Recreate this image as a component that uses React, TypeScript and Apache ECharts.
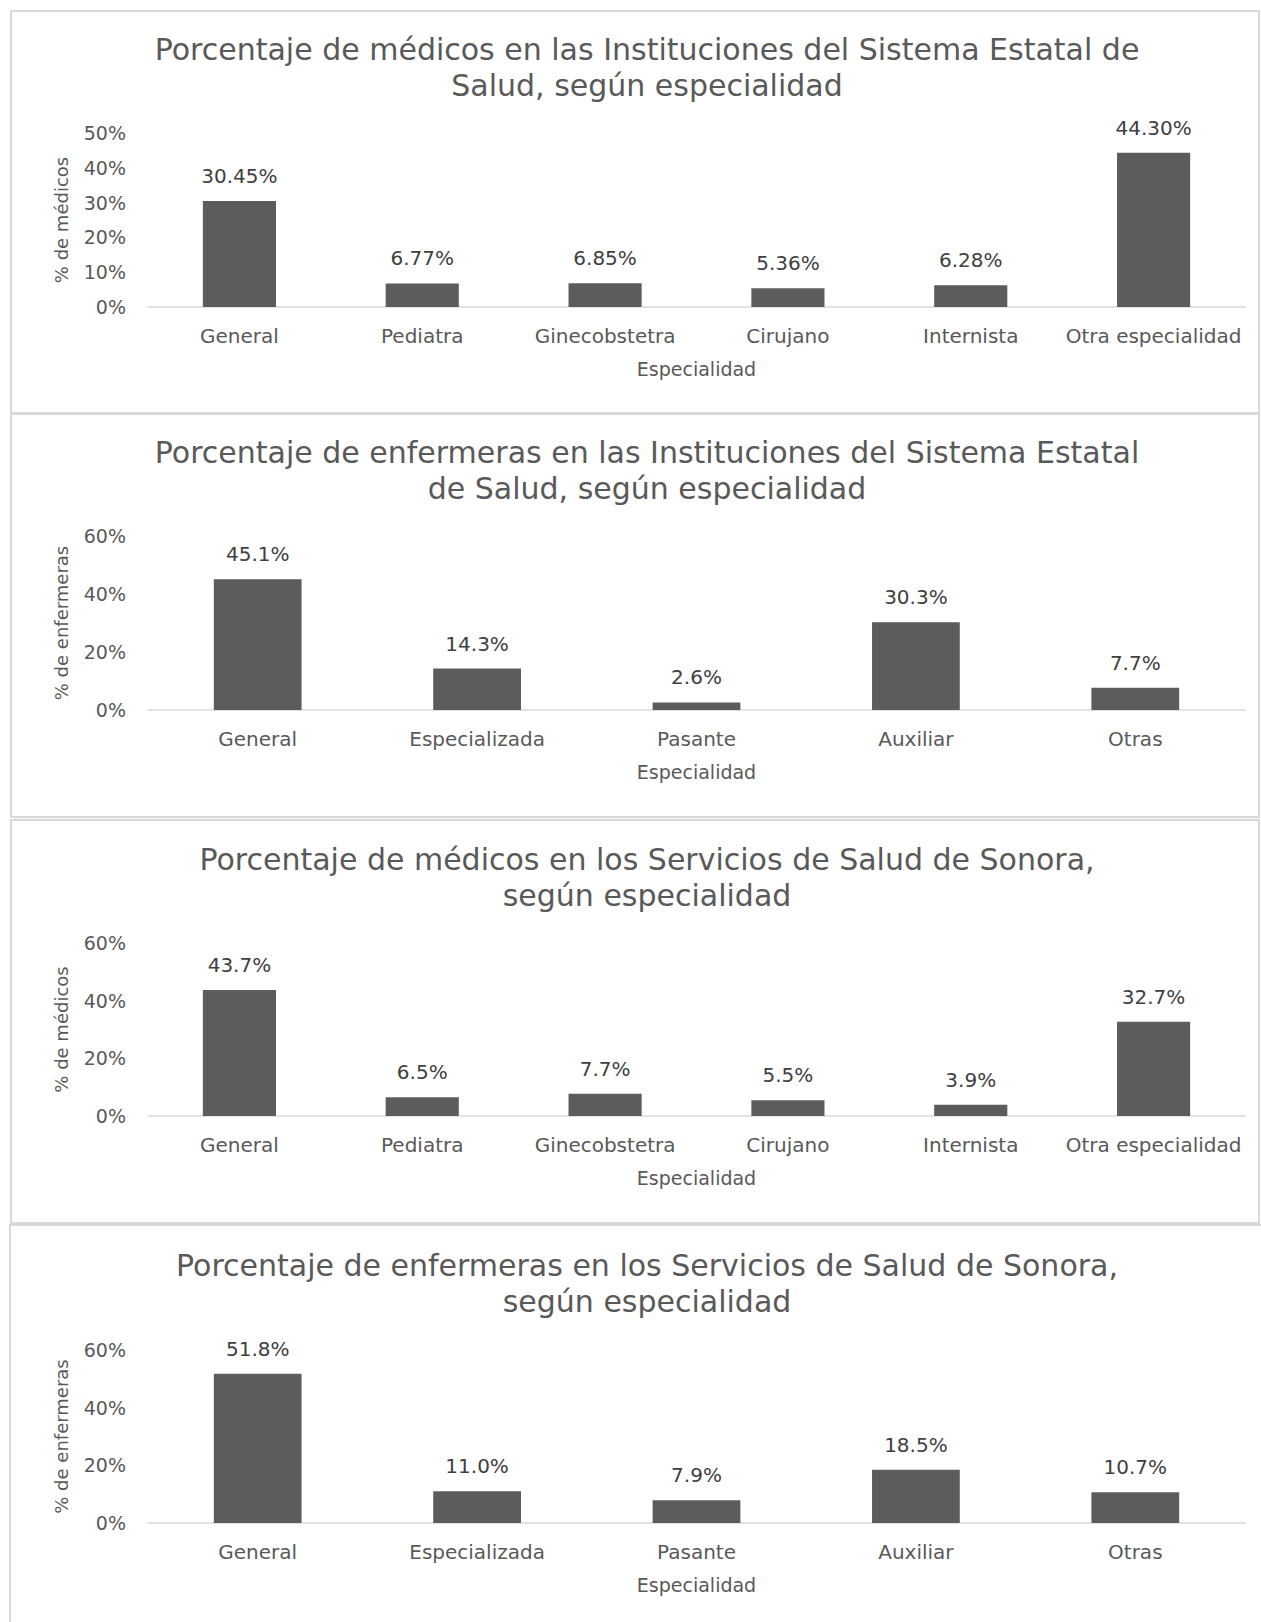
import React, { useEffect, useRef } from "react";
import * as echarts from "echarts";

const catsMed = ["General", "Pediatra", "Ginecobstetra", "Cirujano", "Internista", "Otra especialidad"];
const catsEnf = ["General", "Especializada", "Pasante", "Auxiliar", "Otras"];

const medSistema = [30.45, 6.77, 6.85, 5.36, 6.28, 44.3];
const enfSistema = [45.1, 14.3, 2.6, 30.3, 7.7];
const medSonora = [43.7, 6.5, 7.7, 5.5, 3.9, 32.7];
const enfSonora = [51.8, 11.0, 7.9, 18.5, 10.7];

const titles = [
  "Porcentaje de médicos en las Instituciones del Sistema Estatal de\nSalud, según especialidad",
  "Porcentaje de enfermeras en las Instituciones del Sistema Estatal\nde Salud, según especialidad",
  "Porcentaje de médicos en los Servicios de Salud de Sonora,\nsegún especialidad",
  "Porcentaje de enfermeras en los Servicios de Salud de Sonora,\nsegún especialidad",
];
const yNames = ["% de médicos", "% de enfermeras", "% de médicos", "% de enfermeras"];
const xName = "Especialidad";
const yMax = [50, 60, 60, 60];
const yInterval = [10, 20, 20, 20];
const decimals = [2, 1, 1, 1];

const panels = [
  { cats: catsMed, data: medSistema },
  { cats: catsEnf, data: enfSistema },
  { cats: catsMed, data: medSonora },
  { cats: catsEnf, data: enfSonora },
];

// layout
const gridTops = [133, 536, 943, 1350];
const gridHeights = [174, 174, 173, 173];
const titleTops = [26, 429, 836, 1242];
const boxes = [
  [11, 11, 1248, 402],
  [11, 414, 1248, 403],
  [11, 820, 1248, 403],
  [10, 1225, 1260, 420],
];

const FONT = "DejaVu Sans";
const TFONT = "DejaVu Sans";

export default function App() {
  const ref = useRef<HTMLDivElement>(null);
  useEffect(() => {
    if (!ref.current) return;
    const chart = echarts.init(ref.current, undefined, { renderer: "svg" });
    const option: any = {
      animation: false,
      backgroundColor: "#ffffff",
      title: titles.map((t, i) => ({
        text: t,
        left: 642,
        top: titleTops[i],
        textAlign: "center",
        textStyle: {
          fontFamily: TFONT,
          fontSize: 30,
          fontWeight: "normal",
          color: "#595959",
          lineHeight: 36,
        },
      })),
      graphic: boxes.map((b) => ({
        type: "rect",
        shape: { x: b[0], y: b[1], width: b[2], height: b[3] },
        style: { fill: "none", stroke: "#d9d9d9", lineWidth: 2 },
        silent: true,
      })),
      grid: panels.map((p, i) => ({
        left: 148,
        right: 16,
        top: gridTops[i],
        height: gridHeights[i],
      })),
      xAxis: panels.map((p, i) => ({
        type: "category",
        gridIndex: i,
        data: p.cats,
        name: xName,
        nameLocation: "middle",
        nameGap: 52,
        nameTextStyle: { fontFamily: FONT, fontSize: 19, color: "#595959" },
        axisLine: { lineStyle: { color: "#d9d9d9", width: 1.5 } },
        axisTick: { show: false },
        axisLabel: {
          interval: 0,
          hideOverlap: false,
          fontFamily: FONT,
          fontSize: 20,
          color: "#595959",
          margin: 19,
        },
      })),
      yAxis: panels.map((p, i) => ({
        type: "value",
        gridIndex: i,
        min: 0,
        max: yMax[i],
        interval: yInterval[i],
        name: yNames[i],
        nameLocation: "middle",
        nameGap: 78,
        nameTextStyle: { fontFamily: FONT, fontSize: 18, color: "#595959" },
        axisLine: { show: false },
        axisTick: { show: false },
        splitLine: { show: false },
        axisLabel: {
          fontFamily: FONT,
          fontSize: 19,
          color: "#595959",
          margin: 22,
          formatter: (v: number) => v + "%",
        },
      })),
      series: panels.map((p, i) => ({
        type: "bar",
        xAxisIndex: i,
        yAxisIndex: i,
        data: p.data,
        barCategoryGap: "60%",
        itemStyle: { color: "#5c5c5c" },
        label: {
          show: true,
          position: "top",
          distance: 15,
          fontFamily: FONT,
          fontSize: 20,
          color: "#404040",
          formatter: (pp: any) => Number(pp.value).toFixed(decimals[i]) + "%",
        },
      })),
    };
    chart.setOption(option);
    return () => chart.dispose();
  }, []);
  return (
    <div
      ref={ref}
      style={{ position: "absolute", left: 0, top: 0, width: 1261, height: 1622 }}
    />
  );
}
